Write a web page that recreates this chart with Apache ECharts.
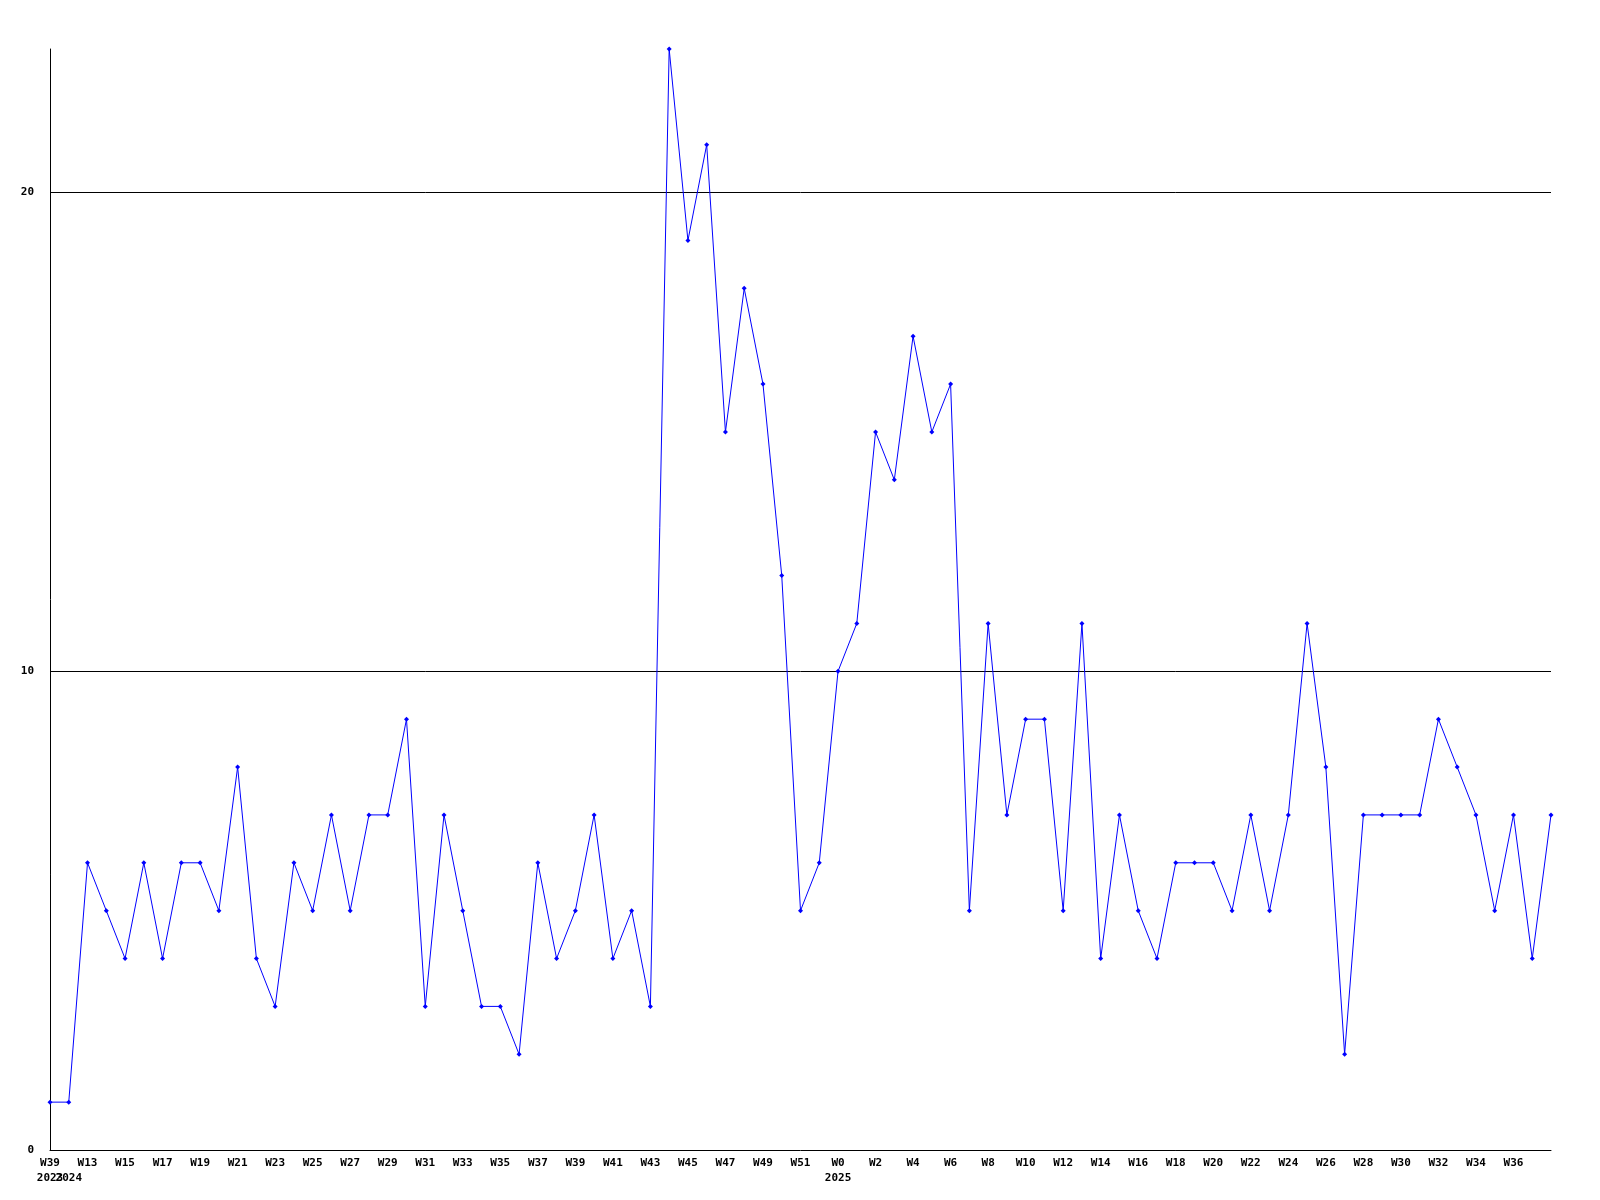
<!DOCTYPE html>
<html>
<head>
<meta charset="utf-8">
<script src="https://cdn.jsdelivr.net/npm/echarts@6/dist/echarts.min.js"></script>
<style>html,body{margin:0;padding:0;background:#fff;}#c{width:1600px;height:1200px;}</style>
</head>
<body>
<div id="c"></div>
<script>
const weeks = ["W39","W12","W13","W14","W15","W16","W17","W18","W19","W20","W21","W22","W23","W24","W25","W26","W27","W28","W29","W30","W31","W32","W33","W34","W35","W36","W37","W38","W39","W40","W41","W42","W43","W44","W45","W46","W47","W48","W49","W50","W51","W52","W0","W1","W2","W3","W4","W5","W6","W7","W8","W9","W10","W11","W12","W13","W14","W15","W16","W17","W18","W19","W20","W21","W22","W23","W24","W25","W26","W27","W28","W29","W30","W31","W32","W33","W34","W35","W36","W37","W38"];
const yearLabels = {0: "2023", 1: "2024", 42: "2025"};
const values = [1,1,6,5,4,6,4,6,6,5,8,4,3,6,5,7,5,7,7,9,3,7,5,3,3,2,6,4,5,7,4,5,3,23,19,21,15,18,16,12,5,6,10,11,15,14,17,15,16,5,11,7,9,9,5,11,4,7,5,4,6,6,6,5,7,5,7,11,8,2,7,7,7,7,9,8,7,5,7,4,7];
const yTicks = [0, 10, 20];
const gridLines = [10, 20];

const chart = echarts.init(document.getElementById('c'), null, {renderer: 'canvas'});
const font = {fontFamily: 'DejaVu Sans Mono', fontWeight: 'bold', fontSize: 11, color: '#000'};
chart.setOption({
  animation: false,
  backgroundColor: '#fff',
  grid: {left: 50, right: 49, top: 49, bottom: 50, containLabel: false},
  xAxis: {
    type: 'category',
    data: weeks,
    boundaryGap: false,
    axisLine: {lineStyle: {color: '#000', width: 1}},
    axisTick: {show: false},
    splitLine: {show: false},
    axisLabel: Object.assign({
      interval: 0,
      margin: 6,
      lineHeight: 15,
      hideOverlap: false,
      formatter: function (v, i) {
        const top = (i % 2 === 0 && i < weeks.length - 1) ? v : '';
        const yr = yearLabels[i];
        return yr ? top + '\n' + yr : top;
      }
    }, font)
  },
  yAxis: {
    type: 'value',
    min: 0,
    max: 23,
    interval: 10,
    axisLine: {show: true, lineStyle: {color: '#000', width: 1}},
    axisTick: {show: false},
    splitLine: {show: false},
    axisLabel: Object.assign({
      margin: 16,
      showMaxLabel: false,
      formatter: function (v) { return yTicks.indexOf(v) >= 0 ? String(v) : ''; }
    }, font)
  },
  series: [{
    type: 'line',
    data: values,
    symbol: 'diamond',
    symbolSize: 5,
    showAllSymbol: true,
    lineStyle: {color: '#0000ff', width: 1},
    itemStyle: {color: '#0000ff'},
    z: 3,
    markLine: {
      silent: true,
      symbol: ['none', 'none'],
      label: {show: false},
      lineStyle: {color: '#000', width: 1, type: 'solid'},
      data: gridLines.map(function (g) { return {yAxis: g}; }),
      z: 1
    }
  }]
});
</script>
</body>
</html>
